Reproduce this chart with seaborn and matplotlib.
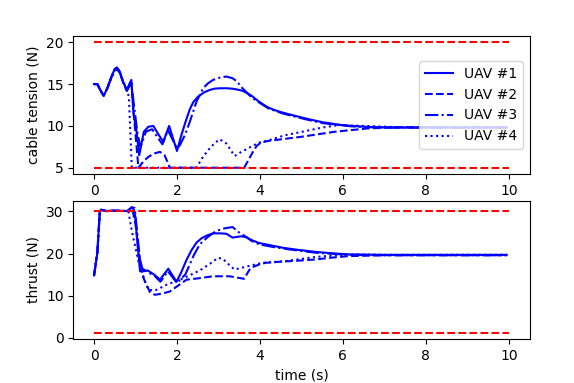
import numpy as np
import pandas as pd
import matplotlib
matplotlib.use("Agg")
import matplotlib.pyplot as plt
import seaborn as sns

labels = ["UAV #1", "UAV #2", "UAV #3", "UAV #4"]
styles = ["-", "--", "-.", ":"]

# ---- cable tension (N) ----
ten_t1 = [0, 0.08, 0.15, 0.23, 0.32, 0.42, 0.5, 0.55, 0.62, 0.7, 0.79, 0.85, 0.9, 0.95, 1.02, 1.09, 1.2, 1.31, 1.43, 1.55, 1.67, 1.81, 2.0, 2.1, 2.2, 2.31, 2.4, 2.51, 2.65, 2.79, 2.9, 3.03, 3.2, 3.34, 3.45, 3.58, 3.7, 3.8, 3.9, 3.98, 4.1, 4.2, 4.35, 4.54, 4.85, 5.18, 5.5, 5.9, 6.2, 6.54, 7.0, 7.33, 8.5, 9.95]
ten_v1 = [15.0, 15.0, 14.3, 13.6, 14.5, 15.9, 16.8, 17.0, 16.5, 15.3, 14.3, 15.0, 15.5, 11.5, 9.5, 6.5, 9.3, 9.9, 10.0, 9.0, 8.1, 10.0, 7.0, 8.8, 10.4, 12.0, 12.9, 13.5, 14.0, 14.3, 14.45, 14.5, 14.5, 14.45, 14.35, 14.2, 13.9, 13.6, 13.2, 12.9, 12.5, 12.2, 11.9, 11.6, 11.2, 10.8, 10.45, 10.15, 10.0, 9.9, 9.82, 9.8, 9.8, 9.8]

ten_t2 = [0, 0.08, 0.15, 0.23, 0.32, 0.42, 0.5, 0.55, 0.62, 0.7, 0.79, 0.85, 0.9, 0.95, 1.0, 1.07, 1.2, 1.31, 1.45, 1.59, 1.7, 1.83, 3.62, 3.72, 3.82, 3.92, 4.02, 4.2, 4.6, 5.0, 5.4, 5.8, 6.2, 6.6, 7.0, 7.4, 8.5, 9.95]
ten_v2 = [15.0, 15.0, 14.3, 13.6, 14.5, 15.8, 16.6, 16.8, 16.4, 15.2, 14.2, 14.8, 15.2, 12.0, 9.0, 5.0, 5.8, 6.3, 6.7, 6.9, 6.5, 5.0, 5.0, 5.9, 6.8, 7.6, 8.0, 8.2, 8.45, 8.7, 9.0, 9.3, 9.5, 9.7, 9.78, 9.85, 9.85, 9.85]

ten_t3 = [0, 0.08, 0.15, 0.23, 0.32, 0.42, 0.5, 0.55, 0.62, 0.7, 0.79, 0.85, 0.9, 0.95, 1.0, 1.05, 1.12, 1.25, 1.4, 1.55, 1.65, 1.78, 2.0, 2.07, 2.2, 2.31, 2.47, 2.63, 2.75, 2.87, 3.05, 3.19, 3.34, 3.45, 3.54, 3.66, 3.8, 3.98, 4.2, 4.54, 4.85, 5.18, 5.5, 5.9, 6.2, 6.54, 7.33, 9.95]
ten_v3 = [15.0, 15.0, 14.3, 13.6, 14.5, 15.8, 16.6, 16.8, 16.4, 15.2, 14.2, 14.7, 15.0, 13.0, 11.0, 9.0, 7.5, 9.3, 9.6, 8.5, 7.8, 9.5, 7.3, 7.7, 9.0, 10.5, 12.9, 14.5, 15.1, 15.5, 15.8, 15.9, 15.7, 15.3, 14.7, 14.1, 13.4, 12.8, 12.1, 11.5, 11.1, 10.7, 10.35, 10.1, 9.95, 9.85, 9.8, 9.8]

ten_t4 = [0, 0.08, 0.15, 0.23, 0.32, 0.42, 0.5, 0.55, 0.62, 0.7, 0.79, 0.84, 0.91, 2.47, 2.6, 2.75, 2.9, 3.03, 3.19, 3.39, 3.52, 3.67, 3.82, 3.98, 4.22, 4.62, 5.02, 5.5, 5.9, 6.5, 7.3, 9.95]
ten_v4 = [15.0, 15.0, 14.3, 13.6, 14.5, 15.9, 16.8, 17.0, 16.5, 15.3, 14.3, 13.5, 5.0, 5.0, 6.1, 7.1, 7.9, 8.4, 7.9, 6.4, 6.8, 7.2, 7.6, 8.0, 8.3, 8.9, 9.3, 9.8, 10.1, 10.0, 9.85, 9.8]

# ---- thrust (N) ----
thr_t1 = [0, 0.08, 0.14, 0.17, 0.3, 0.5, 0.8, 0.91, 0.96, 0.99, 1.05, 1.11, 1.2, 1.29, 1.45, 1.59, 1.79, 1.99, 2.1, 2.23, 2.35, 2.47, 2.6, 2.75, 2.87, 3.05, 3.19, 3.34, 3.54, 3.67, 3.8, 3.98, 4.14, 4.54, 4.9, 5.34, 5.7, 6.14, 6.6, 7.0, 9.95]
thr_v1 = [14.8, 20.2, 30.1, 30.4, 30.1, 30.2, 30.1, 31.0, 30.5, 29.0, 22.0, 15.8, 15.8, 16.0, 15.0, 13.8, 16.4, 13.3, 15.5, 18.5, 20.8, 22.6, 23.7, 24.4, 24.8, 24.8, 24.7, 23.8, 24.1, 23.9, 23.2, 22.5, 22.2, 21.4, 20.9, 20.4, 20.1, 19.8, 19.75, 19.7, 19.7]

thr_t2 = [0, 0.08, 0.14, 0.17, 0.3, 0.5, 0.8, 0.92, 1.0, 1.1, 1.2, 1.35, 1.47, 1.65, 1.83, 2.03, 2.23, 2.5, 2.87, 3.27, 3.62, 3.7, 3.78, 3.98, 4.14, 4.54, 4.9, 5.34, 5.7, 6.14, 6.6, 7.0, 9.95]
thr_v2 = [14.8, 20.2, 30.1, 30.4, 30.1, 30.2, 30.1, 30.6, 27.0, 19.0, 14.0, 10.8, 10.2, 10.5, 11.0, 12.4, 13.8, 14.1, 14.6, 14.6, 14.0, 15.4, 16.6, 17.4, 17.8, 18.1, 18.3, 18.6, 19.0, 19.4, 19.5, 19.6, 19.6]

thr_t3 = [0, 0.08, 0.14, 0.17, 0.3, 0.5, 0.8, 0.92, 0.98, 1.03, 1.1, 1.16, 1.3, 1.45, 1.6, 1.78, 2.0, 2.2, 2.4, 2.55, 2.75, 2.95, 3.15, 3.34, 3.5, 3.66, 3.8, 3.98, 4.3, 4.7, 5.34, 6.14, 7.0, 9.95]
thr_v3 = [14.8, 20.2, 30.1, 30.4, 30.1, 30.2, 30.1, 31.0, 30.8, 26.0, 19.0, 16.5, 15.5, 14.8, 13.3, 15.8, 13.0, 15.0, 19.5, 22.2, 24.0, 25.4, 26.0, 26.3, 25.0, 24.0, 23.0, 22.2, 21.6, 21.0, 20.2, 19.7, 19.6, 19.6]

thr_t4 = [0, 0.08, 0.14, 0.17, 0.3, 0.5, 0.75, 0.83, 0.91, 1.07, 1.2, 1.31, 1.47, 1.75, 2.07, 2.3, 2.55, 2.8, 2.99, 3.11, 3.25, 3.39, 3.67, 4.06, 4.62, 5.34, 6.14, 7.0, 9.95]
thr_v4 = [14.8, 20.2, 30.1, 30.4, 30.1, 30.2, 30.1, 30.0, 25.4, 18.2, 14.0, 11.4, 11.2, 12.6, 13.8, 14.8, 16.0, 17.6, 19.0, 18.7, 17.4, 16.2, 16.9, 17.8, 18.2, 19.2, 19.8, 19.7, 19.7]

ten_limits = [5.0, 20.0]
thr_limits = [1.2, 30.0]
limit_t = [0, 10]

ten_series = [(ten_t1, ten_v1), (ten_t2, ten_v2), (ten_t3, ten_v3), (ten_t4, ten_v4)]
thr_series = [(thr_t1, thr_v1), (thr_t2, thr_v2), (thr_t3, thr_v3), (thr_t4, thr_v4)]

plt.rcParams['font.family'] = ['DejaVu Sans']
fig = plt.figure(figsize=(5.74, 3.83), dpi=100)
ax1 = fig.add_axes([0.1277, 0.5457, 0.7948, 0.3603])
ax2 = fig.add_axes([0.1277, 0.1150, 0.7948, 0.3602])

def draw(ax, series, limits, legend):
    for (t, v), lab, ls in zip(series, labels, styles):
        df = pd.DataFrame({"t": t, "v": v})
        sns.lineplot(data=df, x="t", y="v", ax=ax, color="b", linestyle=ls,
                     linewidth=1.5, label=lab if legend else None,
                     estimator=None, sort=False)
    for lim in limits:
        df = pd.DataFrame({"t": limit_t, "v": [lim, lim]})
        sns.lineplot(data=df, x="t", y="v", ax=ax, color="r", linestyle="--",
                     linewidth=1.5, estimator=None, sort=False)

draw(ax1, ten_series, ten_limits, True)
draw(ax2, thr_series, thr_limits, False)

ax1.set_xlabel("")
ax1.set_ylabel("cable tension (N)")
ax2.set_xlabel("time (s)")
ax2.set_ylabel("thrust (N)")
ax1.set_xticks([0, 2, 4, 6, 8, 10])
ax2.set_xticks([0, 2, 4, 6, 8, 10])
ax1.set_yticks([5, 10, 15, 20])
ax2.set_yticks([0, 10, 20, 30])
ax1.legend(loc="center right", fontsize=10)

fig.savefig("out.png", dpi=100)
